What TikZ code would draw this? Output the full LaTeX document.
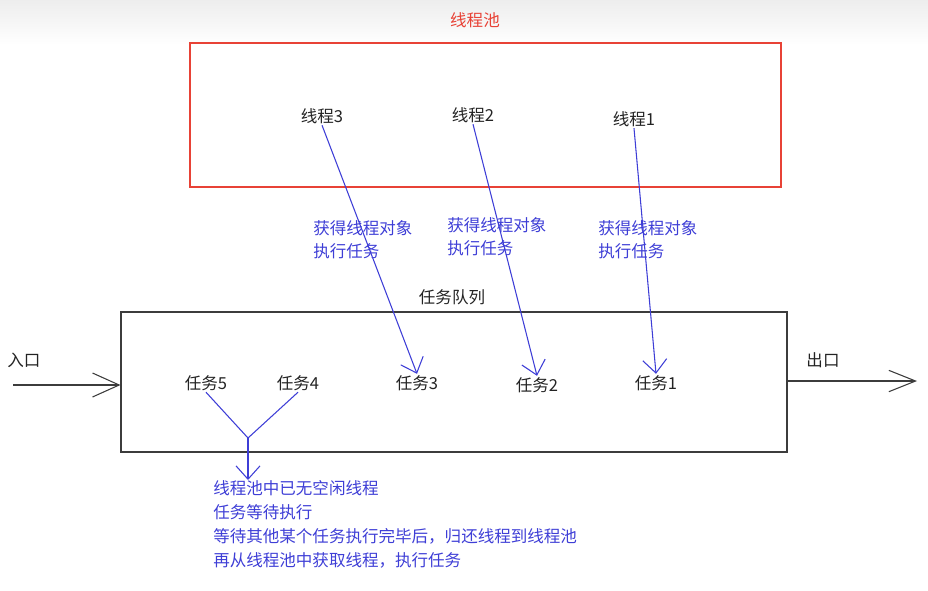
\documentclass[tikz,border=0pt]{standalone}
\usepackage{fontspec}
\setmainfont{Noto Sans CJK SC}
\usetikzlibrary{arrows.meta, positioning}
\definecolor{poolred}{RGB}{232,66,54}
\definecolor{penblue}{RGB}{62,62,214}
\definecolor{boxgray}{RGB}{60,60,60}
\definecolor{inkblack}{RGB}{35,35,35}
\tikzset{
  lbl/.style={font=\fontsize{12.4}{14}\selectfont, text=inkblack, inner sep=1pt},
  hint/.style={font=\fontsize{12.4}{17.25}\selectfont, text=penblue, align=left, inner sep=0pt, anchor=west},
  pen/.style={draw=penblue, line width=0.8pt, -{Straight Barb[length=10pt,width=18pt]}},
  flow/.style={draw=boxgray, line width=0.8pt, -{Straight Barb[length=20pt,width=18pt]}},
}

\begin{document}
\begin{tikzpicture}[x=0.75pt,y=-0.75pt]
\useasboundingbox (0,0) rectangle (928,590);
\fill [top color=gray!14, bottom color=white] (0,0) rectangle (928,45);

% thread pool
\node [lbl, text=poolred] (pooltitle) at (475,20) {线程池};
\node [draw=poolred, line width=0.8pt, minimum width=443.25pt, minimum height=108pt, inner sep=0pt] (pool) at (485.5,115) {};
\node [lbl] (t3) at (322,116) {线程3};
\node [lbl] (t2) at (473,115) {线程2};
\node [lbl] (t1) at (634,119) {线程1};

% task queue
\node [lbl] (queuetitle) at (452,297) {任务队列};
\node [draw=boxgray, line width=0.8pt, minimum width=499.5pt, minimum height=105pt, inner sep=0pt] (queue) at (454,382) {};
\node [lbl] (q5) at (206,383) {任务5};
\node [lbl] (q4) at (298,383) {任务4};
\node [lbl] (q3) at (417,383) {任务3};
\node [lbl] (q2) at (537,385) {任务2};
\node [lbl] (q1) at (656,383) {任务1};

% entry / exit
\node [lbl] (inlbl) at (24,360) {入口};
\node [lbl] (outlbl) at (823,360) {出口};
\coordinate (entry) at (13,385);
\coordinate (exit) at (917,381);
\draw [flow] (entry) -- (entry -| queue.west);
\draw [flow, -{Straight Barb[length=20pt,width=16pt]}] (exit -| queue.east) -- (exit);

% threads take tasks
\node [hint] (h3) at (313,239.5) {获得线程对象\\执行任务};
\node [hint] (h2) at (447,236.5) {获得线程对象\\执行任务};
\node [hint] (h1) at (598,239.5) {获得线程对象\\执行任务};
\draw [pen] (t3.south) -- (q3.north);
\draw [pen] (t2.south) -- (q2.north);
\draw [pen] (t1.south) -- (q1.north);

% waiting tasks
\coordinate (fork) at (248,438);
\node [hint, anchor=north west, font=\fontsize{12.4}{18}\selectfont] (wait) at (213,480)
  {线程池中已无空闲线程\\任务等待执行\\等待其他某个任务执行完毕后，归还线程到线程池\\再从线程池中获取线程，执行任务};
\draw [draw=penblue, line width=0.8pt] (q5.south) -- (fork);
\draw [draw=penblue, line width=0.8pt] (q4.south) -- (fork);
\draw [pen] (fork) -- (fork |- wait.north);
\end{tikzpicture}
\end{document}
